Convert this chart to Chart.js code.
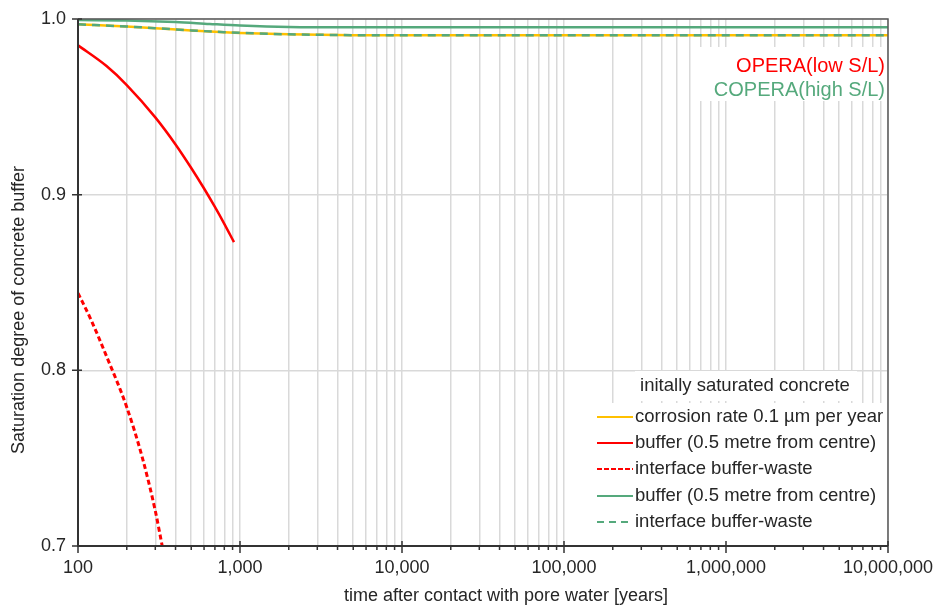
<!DOCTYPE html>
<html>
<head>
<meta charset="utf-8">
<script src="https://cdn.jsdelivr.net/npm/chart.js@4.4.0/dist/chart.umd.min.js"></script>
<style>
  html, body { margin: 0; padding: 0; background: #fff; }
  #wrap { width: 935px; height: 605px; }
</style>
</head>
<body>
<div id="wrap"><canvas id="chart" width="935" height="605"></canvas></div>
<script>
// values (years, saturation degree)
const corrosionX = [100, 200, 300, 500, 800, 1000, 2000, 5000, 10000, 10000000]
const corrosionY = [0.9970, 0.9957, 0.9948, 0.9935, 0.9925, 0.9921, 0.9913, 0.9908, 0.9907, 0.9907]

const lowBufferX = [100, 150, 200, 300, 400, 500, 600, 700, 800, 918]
const lowBufferY = [0.985, 0.9732, 0.9624, 0.9440, 0.9286, 0.9152, 0.9035, 0.8930, 0.8834, 0.8730]

const lowInterfaceX = [100, 120, 150, 200, 250, 300, 331]
const lowInterfaceY = [0.844, 0.829, 0.808, 0.779, 0.750, 0.720, 0.700]

const highBufferX = [100, 200, 400, 650, 1000, 2000, 3000, 10000000]
const highBufferY = [0.9994, 0.9992, 0.9983, 0.9972, 0.9963, 0.9954, 0.9953, 0.9953]

const highInterfaceX = [100, 200, 300, 500, 800, 1000, 2000, 5000, 10000, 10000000]
const highInterfaceY = [0.9970, 0.9957, 0.9948, 0.9935, 0.9925, 0.9921, 0.9913, 0.9908, 0.9907, 0.9907]

const xTickValues = [100, 200, 300, 400, 500, 600, 700, 800, 900,
    1000, 2000, 3000, 4000, 5000, 6000, 7000, 8000, 9000,
    10000, 20000, 30000, 40000, 50000, 60000, 70000, 80000, 90000,
    100000, 200000, 300000, 400000, 500000, 600000, 700000, 800000, 900000,
    1000000, 2000000, 3000000, 4000000, 5000000, 6000000, 7000000, 8000000, 9000000,
    10000000]
const xMajor = [100, 1000, 10000, 100000, 1000000, 10000000]
const xTickLabels = ['100', '1,000', '10,000', '100,000', '1,000,000', '10,000,000']
const yTickValues = [0.7, 0.8, 0.9, 1.0]
const yTickLabels = ['0.7', '0.8', '0.9', '1.0']

const xTitle = 'time after contact with pore water [years]'
const yTitle = 'Saturation degree of concrete buffer'

const RED = '#ff0000'
const GREEN = '#55a97c'
const YELLOW = '#ffc000'
const TEXT = '#262626'
const FONT = "'Liberation Sans', Arial, sans-serif"

function pts(xs, ys) {
    return xs.map((x, i) => ({ x: x, y: ys[i] }))
}

// order: lower number is drawn on top
const datasets = [
    { label: 'corrosion rate 0.1 \u00b5m per year', data: pts(corrosionX, corrosionY), borderColor: YELLOW, borderWidth: 2.5, borderDash: [], legendDash: [], order: 5 },
    { label: 'buffer (0.5 metre from centre)', data: pts(lowBufferX, lowBufferY), borderColor: RED, borderWidth: 2.5, borderDash: [], legendDash: [], order: 2 },
    { label: 'interface buffer-waste', data: pts(lowInterfaceX, lowInterfaceY), borderColor: RED, borderWidth: 3, borderDash: [5, 3], legendDash: [5, 2], order: 3 },
    { label: 'buffer (0.5 metre from centre)', data: pts(highBufferX, highBufferY), borderColor: GREEN, borderWidth: 2.5, borderDash: [], legendDash: [], order: 1 },
    { label: 'interface buffer-waste', data: pts(highInterfaceX, highInterfaceY), borderColor: GREEN, borderWidth: 2.5, borderDash: [8, 6], legendDash: [7, 5], order: 0 },
]
datasets.forEach(d => {
    d.showLine = true
    d.pointRadius = 0
    d.pointHoverRadius = 0
    d.cubicInterpolationMode = 'monotone'
    d.fill = false
})

// white boxes, side labels and the legend, drawn over the grid
const overlay = {
    id: 'overlay',
    afterDatasetsDraw(chart) {
        const c = chart.ctx
        c.save()
        c.fillStyle = '#fff'
        c.fillRect(697, 47, 189, 54)
        c.font = '20px ' + FONT
        c.textAlign = 'right'
        c.textBaseline = 'middle'
        c.fillStyle = RED
        c.fillText('OPERA(low S/L)', 885, 66)
        c.fillStyle = GREEN
        c.fillText('COPERA(high S/L)', 885, 90)

        c.fillStyle = '#fff'
        c.fillRect(635, 371, 222, 30)
        c.fillRect(588, 403, 298, 142)
        c.font = '18.5px ' + FONT
        c.fillStyle = TEXT
        c.textAlign = 'center'
        c.fillText('initally saturated concrete', 745, 386)

        const rows = [417, 443, 469, 496, 522]
        c.textAlign = 'left'
        datasets.forEach((d, i) => {
            const y = rows[i]
            c.beginPath()
            c.strokeStyle = d.borderColor
            c.lineWidth = 2
            c.setLineDash(d.legendDash)
            c.moveTo(597, y)
            c.lineTo(633, y)
            c.stroke()
            c.setLineDash([])
            c.fillStyle = TEXT
            c.fillText(d.label, 635, y)
        })
        c.restore()
    },
    afterDraw(chart) {
        const c = chart.ctx
        const a = chart.chartArea
        const xs = chart.scales.x
        const ys = chart.scales.y
        c.save()
        c.strokeStyle = '#595959'
        c.lineWidth = 1.5
        c.beginPath()
        c.moveTo(a.left, a.top)
        c.lineTo(a.right, a.top)
        c.lineTo(a.right, a.bottom)
        c.stroke()
        c.strokeStyle = '#333'
        c.lineWidth = 2
        c.beginPath()
        c.moveTo(a.left, a.top)
        c.lineTo(a.left, a.bottom)
        c.lineTo(a.right, a.bottom)
        c.stroke()
        c.lineWidth = 1.5
        c.beginPath()
        xTickValues.forEach(v => {
            const px = xs.getPixelForValue(v)
            if (xMajor.includes(v)) {
                c.moveTo(px, a.bottom - 5)
                c.lineTo(px, a.bottom + 7)
            } else {
                c.moveTo(px, a.bottom)
                c.lineTo(px, a.bottom + 4)
            }
        })
        yTickValues.forEach(v => {
            const py = ys.getPixelForValue(v)
            c.moveTo(a.left - 6, py)
            c.lineTo(a.left + 4, py)
        })
        c.stroke()

        // axis titles sit off-centre in the original
        c.fillStyle = TEXT
        c.font = '18px ' + FONT
        c.textAlign = 'center'
        c.textBaseline = 'middle'
        c.fillText(xTitle, 506, 596)
        c.translate(19, 310)
        c.rotate(-Math.PI / 2)
        c.fillText(yTitle, 0, 0)
        c.restore()
    }
}

const ctx = document.getElementById('chart').getContext('2d')
const chart = new Chart(ctx, {
    type: 'scatter',
    data: { datasets: datasets },
    options: {
        responsive: false,
        animation: false,
        events: [],
        layout: { padding: { top: 19, right: 47, left: 0, bottom: 0 } },
        plugins: {
            legend: { display: false },
            tooltip: { enabled: false },
        },
        scales: {
            x: {
                type: 'logarithmic',
                min: 100,
                max: 10000000,
                afterFit: s => {
                    s.height = 59
                    s.paddingLeft = 0
                    s.paddingRight = 0
                },
                afterBuildTicks: s => {
                    s.ticks = xTickValues.map(v => ({ value: v, major: xMajor.includes(v) }))
                },
                grid: { color: '#d9d9d9', lineWidth: 1.5, drawTicks: false },
                border: { display: false },
                ticks: {
                    autoSkip: false,
                    maxRotation: 0,
                    padding: 11,
                    color: TEXT,
                    font: { family: FONT, size: 18 },
                    callback: v => {
                        const i = xMajor.indexOf(v)
                        return i >= 0 ? xTickLabels[i] : ''
                    }
                }
            },
            y: {
                min: 0.7,
                max: 1.0,
                afterFit: s => {
                    s.width = 78
                    s.paddingTop = 0
                    s.paddingBottom = 0
                },
                afterBuildTicks: s => {
                    s.ticks = yTickValues.map(v => ({ value: v }))
                },
                grid: { color: '#d9d9d9', lineWidth: 1.5, drawTicks: false },
                border: { display: false },
                ticks: {
                    padding: 12,
                    color: TEXT,
                    font: { family: FONT, size: 18 },
                    callback: (v, i) => yTickLabels[i]
                }
            }
        }
    },
    plugins: [overlay]
})
</script>
</body>
</html>
